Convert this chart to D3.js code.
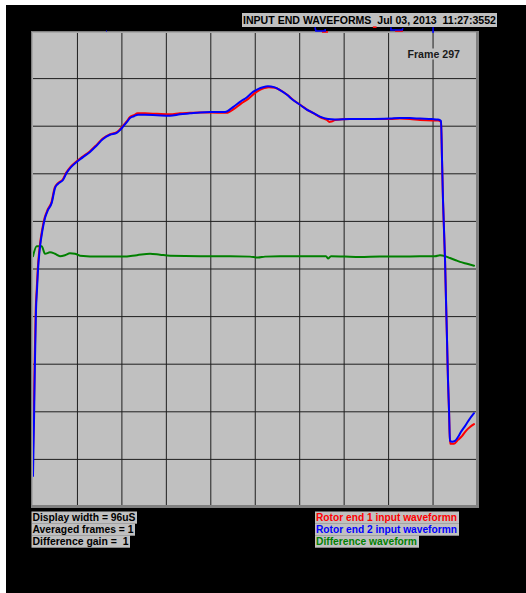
<!DOCTYPE html>
<html>
<head>
<meta charset="utf-8">
<script src="https://cdn.jsdelivr.net/npm/d3@7"></script>
<style>
  html, body { margin: 0; padding: 0; background: #ffffff; }
  svg { display: block; }
  text { white-space: pre; }
</style>
</head>
<body>
<svg id="chart" width="526" height="593"></svg>
<script>
// ---- Data -----------------------------------------------------------------
// Time in microseconds (96 uS display width), amplitude in screen divisions.
const displayWidthUs = 96;
const xDivisions = d3.range(0, 96.01, 9.6);
const yDivisions = d3.range(-5, 5.01, 1);

const titleText = "INPUT END WAVEFORMS  Jul 03, 2013  11:27:3552";
const frameLabel = "Frame 297";
const infoLines = ["Display width = 96uS", "Averaged frames = 1", "Difference gain =  1"];
const legendLabels = ["Rotor end 1 input waveformn", "Rotor end 2 input waveformn", "Difference waveform"];

// Rotor end 2 input waveform [t (uS), amplitude (div)]
const rotor2Wave = [
  [0,-4.35],[0.22,-3.17],[0.43,-1.91],[0.65,-0.86],[0.86,-0.44],[1.08,-0.02],[1.51,0.46],
  [2.05,0.82],[2.59,1.07],[3.24,1.24],[4.04,1.39],[4.75,1.70],[5.40,1.79],[6.48,1.87],
  [7.28,2.02],[8.21,2.14],[9.44,2.25],[10.80,2.35],[12.31,2.46],[13.61,2.58],[15.12,2.73],
  [16.63,2.82],[18.08,2.86],[18.79,2.92],[19.44,2.99],[20.30,3.09],[20.95,3.17],[21.81,3.21],
  [22.68,3.24],[24.19,3.24],[26.78,3.23],[29.59,3.22],[31.75,3.25],[33.91,3.27],[36.07,3.29],
  [38.23,3.30],[41.47,3.30],[43.19,3.40],[44.70,3.51],[46.22,3.61],[47.52,3.72],[48.59,3.78],
  [49.67,3.82],[50.75,3.84],[52.05,3.82],[53.35,3.76],[54.86,3.66],[56.15,3.55],[57.66,3.45],
  [58.96,3.36],[60.47,3.28],[61.98,3.20],[63.71,3.15],[65.22,3.14],[68.46,3.15],[72.78,3.15],
  [77.10,3.16],[79.26,3.17],[81.42,3.17],[83.58,3.16],[86.17,3.15],[87.47,3.14],[88.12,3.11],
  [88.34,2.29],[88.55,1.45],[88.99,0.19],[89.20,-0.65],[89.42,-1.49],[89.63,-2.33],[89.85,-2.96],
  [90.06,-3.61],[90.50,-3.63],[91.15,-3.61],[91.79,-3.53],[92.44,-3.42],[93.30,-3.30],
  [94.17,-3.17],[95.25,-3.03]
];

// Rotor end 1 input waveform [t (uS), amplitude (div)]
const rotor1Wave = [
  [0,-3.80],[0.16,-3.12],[0.37,-1.90],[0.59,-0.85],[0.80,-0.43],[1.02,-0.01],[1.45,0.47],
  [1.99,0.83],[2.53,1.08],[3.18,1.25],[3.98,1.40],[4.69,1.71],[5.34,1.80],[6.42,1.88],
  [7.22,2.03],[8.15,2.15],[9.38,2.26],[10.74,2.36],[12.25,2.47],[13.55,2.59],[15.06,2.74],
  [16.57,2.83],[18.02,2.87],[18.73,2.93],[19.38,3.00],[20.24,3.10],[20.89,3.19],[21.75,3.23],
  [22.62,3.27],[24.19,3.27],[26.78,3.26],[29.59,3.25],[31.75,3.27],[33.91,3.28],[36.07,3.29],
  [38.23,3.29],[41.80,3.28],[43.50,3.37],[45.00,3.48],[46.55,3.58],[47.85,3.69],[48.90,3.76],
  [49.95,3.80],[50.95,3.82],[52.25,3.81],[53.55,3.75],[55.05,3.65],[56.35,3.54],[57.85,3.44],
  [59.15,3.35],[60.65,3.27],[62.15,3.18],[63.50,3.13],[64.00,3.09],[64.50,3.10],[65.22,3.13],
  [68.46,3.15],[72.78,3.15],[77.10,3.15],[79.26,3.16],[81.42,3.15],[83.58,3.13],[86.17,3.12],
  [87.47,3.12],[88.12,3.09],[88.34,2.27],[88.55,1.43],[88.99,0.17],[89.20,-0.67],[89.42,-1.51],
  [89.63,-2.35],[89.85,-2.98],[90.06,-3.67],[90.93,-3.67],[91.79,-3.59],[92.65,-3.51],
  [93.52,-3.40],[94.38,-3.32],[95.25,-3.26]
];

// Difference waveform [t (uS), amplitude (div)]
const diffWave = [
  [0,0.27],[0.80,0.48],[1.88,0.48],[2.59,0.32],[3.67,0.35],[4.75,0.32],[5.83,0.27],[6.91,0.29],
  [7.99,0.33],[9.07,0.32],[10.15,0.28],[14.47,0.26],[18.14,0.26],[19.44,0.26],[22.46,0.29],
  [25.27,0.32],[27.43,0.30],[29.59,0.28],[36.07,0.27],[42.55,0.27],[46.87,0.26],[48.59,0.24],
  [50.10,0.26],[53.35,0.27],[57.66,0.27],[61.98,0.27],[63.28,0.27],[63.71,0.22],[64.36,0.27],
  [67.38,0.26],[70.62,0.25],[74.94,0.26],[79.26,0.26],[83.58,0.27],[86.82,0.27],[87.90,0.29],
  [88.98,0.27],[90.06,0.23],[91.15,0.19],[92.23,0.15],[93.74,0.11],[95.25,0.07]
];

// Short over-range traces just above the top of the screen: [seriesIndex, points]
const overRangeTraces = [
  [1, [[15.80,5.00],[15.95,5.00]]],
  [0, [[62.40,4.98],[63.70,4.98]]],
  [1, [[60.90,5.08],[61.10,5.00],[63.10,5.00],[63.10,5.04]]],
  [0, [[73.40,5.08],[74.20,5.08]]],
  [0, [[78.20,5.00],[79.90,5.00]]],
  [1, [[77.30,5.08],[77.30,5.02],[79.70,5.02],[79.90,5.06]]],
  [1, [[86.40,5.08],[86.40,4.96]]]
];

const seriesColors = ["#ff0000", "#0000ff", "#008000"];

// ---- Layout ---------------------------------------------------------------
const svg = d3.select("#chart");
const plot = { left: 33, right: 477.5, top: 31, bottom: 507 };

const x = d3.scaleLinear().domain([0, displayWidthUs]).range([plot.left, plot.right]);
const y = d3.scaleLinear().domain([-5, 5]).range([plot.bottom, plot.top]);
const font = "Liberation Sans, Arial, sans-serif";

// Screen background
svg.append("rect").attr("x", 6).attr("y", 5).attr("width", 520).attr("height", 588).attr("fill", "#000");

// Title bar
svg.append("rect").attr("x", 242).attr("y", 13).attr("width", 255).attr("height", 14).attr("fill", "#c0c0c0");
svg.append("text").attr("x", 243).attr("y", 23.8)
  .attr("font-family", font).attr("font-size", 11).attr("font-weight", "bold")
  .attr("textLength", 253).attr("lengthAdjust", "spacingAndGlyphs")
  .attr("fill", "#000").text(titleText);

// Plot panel with bevelled frame
svg.append("rect").attr("x", 31).attr("y", 31).attr("width", 448).attr("height", 477).attr("fill", "#808080");
svg.append("rect").attr("x", 32).attr("y", 32).attr("width", 444).attr("height", 473).attr("fill", "#a8a8a8");
svg.append("rect").attr("x", 33).attr("y", 33).attr("width", 443).attr("height", 472).attr("fill", "#c0c0c0");

// Grid
const grid = svg.append("g").attr("stroke", "#1e1e1e").attr("stroke-width", 1);
grid.selectAll("line.v").data(xDivisions.slice(1, -1)).join("line").attr("class", "v")
  .attr("x1", d => x(d)).attr("x2", d => x(d)).attr("y1", 33).attr("y2", 505);
grid.selectAll("line.h").data(yDivisions.slice(1, -1)).join("line").attr("class", "h")
  .attr("x1", 33).attr("x2", 476).attr("y1", d => y(d)).attr("y2", d => y(d));

// Frame counter
const frameG = svg.append("g");
frameG.append("rect").attr("x", 406.5).attr("y", 48.5).attr("width", 55).attr("height", 11).attr("fill", "#c0c0c0");
frameG.append("text").attr("x", 407.5).attr("y", 57.8)
  .attr("font-family", font).attr("font-size", 11).attr("font-weight", "bold")
  .attr("textLength", 52.5).attr("lengthAdjust", "spacingAndGlyphs")
  .attr("fill", "#1a1a1a").text(frameLabel);

// Waveforms
svg.append("clipPath").attr("id", "plotClip").append("rect")
  .attr("x", 33).attr("y", 33).attr("width", 443).attr("height", 472);

const line = d3.line().x(d => x(d[0])).y(d => y(d[1])).curve(d3.curveMonotoneX);
const waves = svg.append("g").attr("clip-path", "url(#plotClip)")
  .attr("fill", "none").attr("stroke-width", 2).attr("stroke-linejoin", "round").attr("stroke-linecap", "round");

waves.append("path").datum(diffWave).attr("d", line).attr("stroke", seriesColors[2]);
waves.append("path").datum(rotor1Wave).attr("d", line).attr("stroke", seriesColors[0]);
waves.append("path").datum(rotor2Wave).attr("d", line).attr("stroke", seriesColors[1]);

// Over-range traces above the screen edge
const straight = d3.line().x(d => x(d[0])).y(d => y(d[1]));
svg.append("g").attr("fill", "none").attr("stroke-width", 1.6)
  .selectAll("path").data(overRangeTraces).join("path")
  .attr("d", d => straight(d[1])).attr("stroke", d => seriesColors[d[0]]);

// Info block (bottom left)
const infoWidths = [103, 101, 96];
infoLines.forEach((t, i) => {
  svg.append("rect").attr("x", 31.5).attr("y", 511.5 + 12 * i).attr("width", infoWidths[i] + 2.5).attr("height", 12.2).attr("fill", "#c0c0c0");
  svg.append("text").attr("x", 32.5).attr("y", 521 + 12 * i)
    .attr("font-family", font).attr("font-size", 11).attr("font-weight", "bold")
    .attr("textLength", infoWidths[i]).attr("lengthAdjust", "spacingAndGlyphs")
    .attr("fill", "#000").text(t);
});

// Legend block (bottom right)
const legendWidths = [141, 141, 101];
legendLabels.forEach((t, i) => {
  svg.append("rect").attr("x", 315).attr("y", 511.5 + 12 * i).attr("width", legendWidths[i] + 3).attr("height", 12.2).attr("fill", "#c0c0c0");
  svg.append("text").attr("x", 316).attr("y", 521 + 12 * i)
    .attr("font-family", font).attr("font-size", 11).attr("font-weight", "bold")
    .attr("textLength", legendWidths[i]).attr("lengthAdjust", "spacingAndGlyphs")
    .attr("fill", seriesColors[i]).text(t);
});
</script>
</body>
</html>
